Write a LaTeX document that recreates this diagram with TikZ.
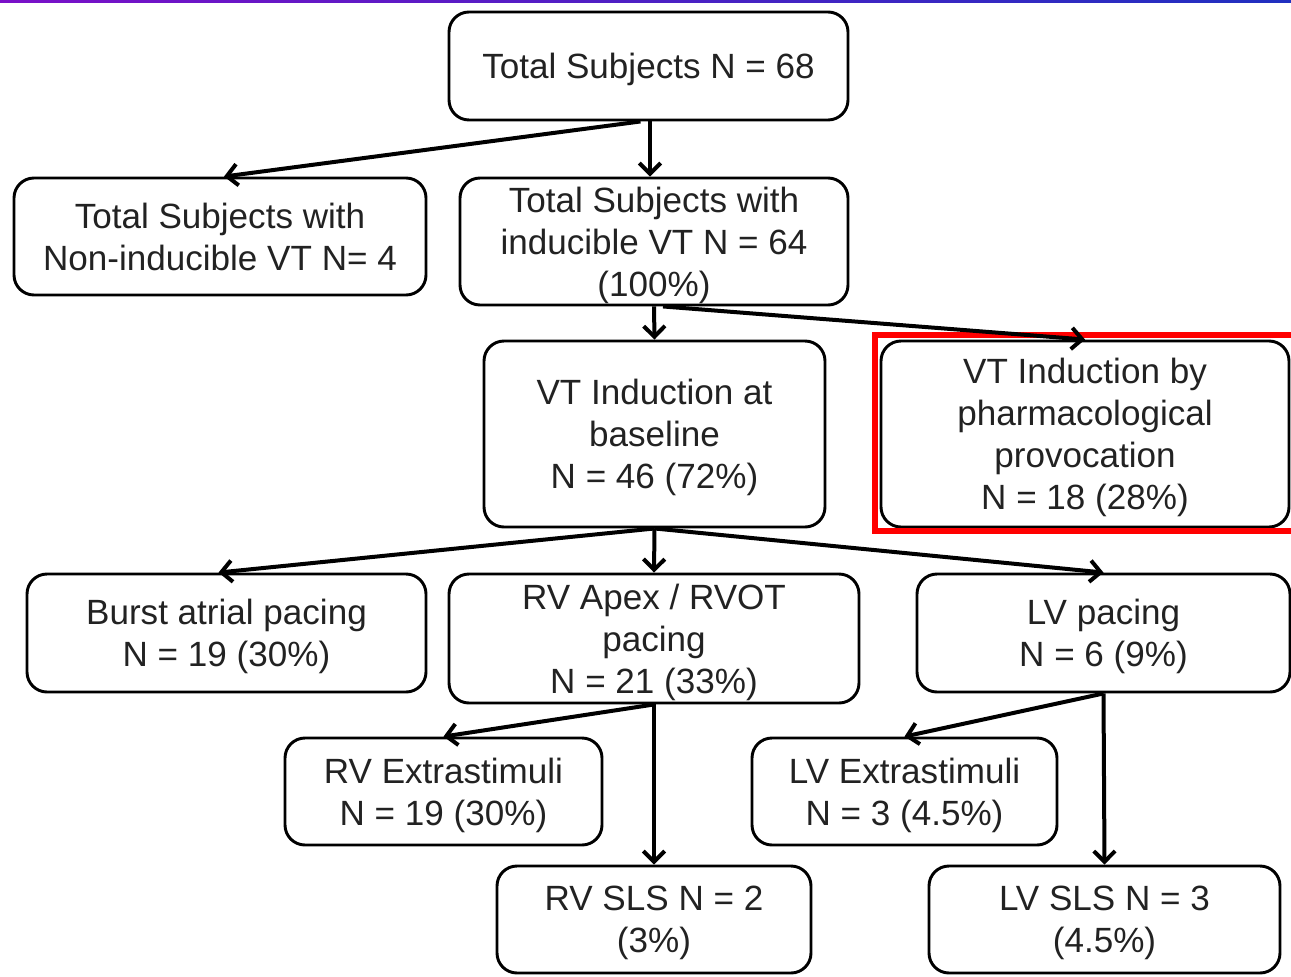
\documentclass[tikz,border=0pt]{standalone}
\usepackage{fontspec}
\setmainfont{Liberation Sans}
\usetikzlibrary{arrows.meta,calc}
\definecolor{txt}{HTML}{222222}
\definecolor{topl}{HTML}{7A10C8}
\definecolor{topr}{HTML}{2030C0}
\tikzset{
  box/.style={draw=black, line width=2.2pt, rounded corners=15pt, align=center,
    inner sep=0pt, text=txt, text depth=-4pt, font=\fontsize{26.3pt}{31.5pt}\selectfont},
  conn/.style={draw=black, line width=3pt, arrows={-Straight Barb[length=8pt,width=16pt]}},
}
\begin{document}
\begin{tikzpicture}[x=0.75pt,y=-0.75pt]
\useasboundingbox (0,0) rectangle (1291,977);
\shade[left color=topl,right color=topr] (0,0) rectangle (1291,3);

\node[box, minimum width=399*0.75pt, minimum height=108*0.75pt] (A) at (648.5,66) {Total Subjects N = 68};
\node[box, minimum width=412*0.75pt, minimum height=117*0.75pt] (B) at (220,236.5) {Total Subjects with\\Non-inducible VT N= 4};
\node[box, minimum width=388*0.75pt, minimum height=127*0.75pt] (C) at (654,241.5) {Total Subjects with\\inducible VT N = 64\\(100\%)};
\node[box, minimum width=341*0.75pt, minimum height=186*0.75pt] (D) at (654.5,434) {VT Induction at\\baseline\\N = 46 (72\%)};
\node[box, minimum width=408*0.75pt, minimum height=186*0.75pt] (E) at (1085,434) {VT Induction by\\pharmacological\\provocation\\N = 18 (28\%)};
\node[box, minimum width=399*0.75pt, minimum height=118*0.75pt] (F) at (226.5,633) {Burst atrial pacing\\N = 19 (30\%)};
\node[box, minimum width=410*0.75pt, minimum height=129*0.75pt] (G) at (654,638.5) {RV Apex / RVOT\\pacing\\N = 21 (33\%)};
\node[box, minimum width=373*0.75pt, minimum height=118*0.75pt] (H) at (1103.5,633) {LV pacing\\N = 6 (9\%)};
\node[box, minimum width=317*0.75pt, minimum height=107*0.75pt] (I) at (443.5,791.5) {RV Extrastimuli\\N = 19 (30\%)};
\node[box, minimum width=305*0.75pt, minimum height=107*0.75pt] (J) at (904.5,791.5) {LV Extrastimuli\\N = 3 (4.5\%)};
\node[box, minimum width=314*0.75pt, minimum height=107*0.75pt] (K) at (654,919.5) {RV SLS N = 2\\(3\%)};
\node[box, minimum width=351*0.75pt, minimum height=107*0.75pt] (L) at (1104.5,919.5) {LV SLS N = 3\\(4.5\%)};

\draw[red, line width=3.8pt] (875,335) rectangle (1300,531);

\path[conn] ($(A.south)+(-8,0)$) -- ($(B.north)+(4,0)$);
\path[conn] ($(A.south)+(1.5,0)$) -- ($(C.north)+(-4,0)$);
\path[conn] (C.south) -- (D.north);
\path[conn] ($(C.south)+(9,0)$) -- (E.north);
\path[conn] (D.south) -- (G.north);
\path[conn] (D.south) -- ($(F.north)+(-8,0)$);
\path[conn] (D.south) -- (H.north);
\path[conn] (G.south) -- (I.north);
\path[conn] (G.south) -- (K.north);
\path[conn] (H.south) -- (J.north);
\path[conn] (H.south) -- (L.north);
\end{tikzpicture}
\end{document}
